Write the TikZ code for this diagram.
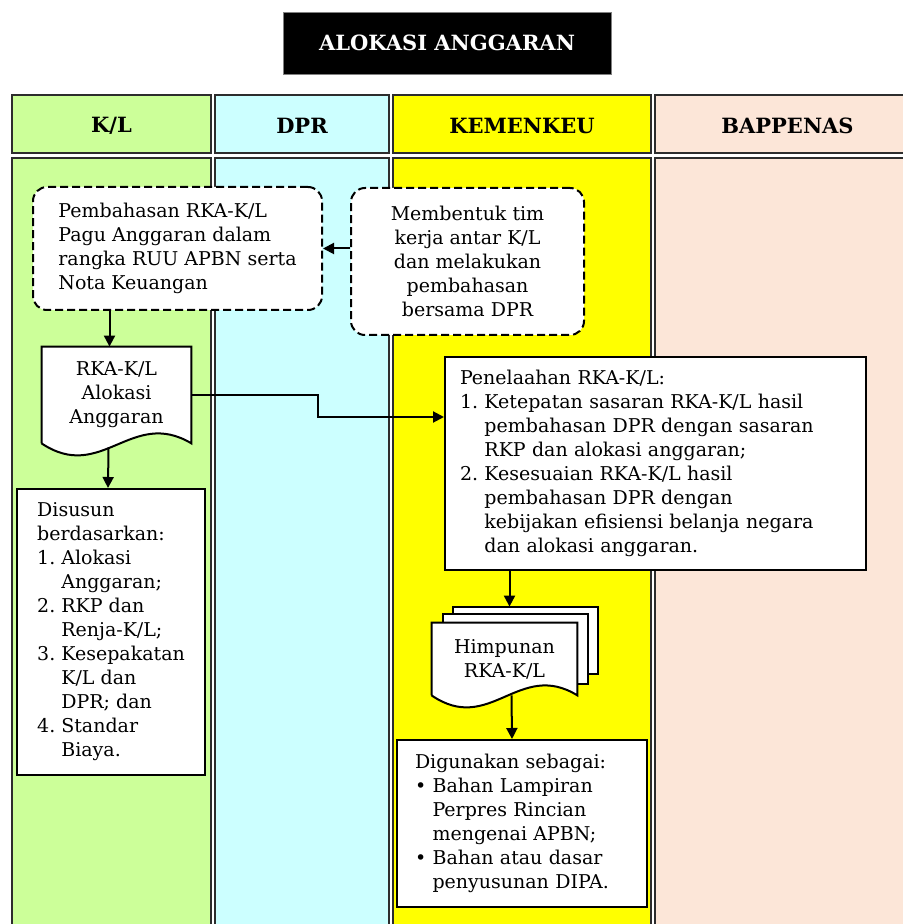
\documentclass[tikz,border=0pt]{standalone}
\usepackage{fontspec}
\setmainfont{DejaVu Serif}
\usetikzlibrary{arrows.meta,calc,positioning}
\definecolor{klgreen}{RGB}{204,255,153}
\definecolor{dprcyan}{RGB}{204,255,255}
\definecolor{kemyellow}{RGB}{255,255,0}
\definecolor{bappeach}{RGB}{252,230,216}
\definecolor{laneline}{RGB}{45,45,45}
\pgfdeclarelayer{lanes}
\pgfdeclarelayer{papers}
\pgfsetlayers{lanes,papers,main}
\newcommand{\lanecol}[4]{%
  \filldraw[fill=#3,draw=laneline,line width=1pt] (#1,95) rectangle (#2,153);
  \filldraw[fill=#3,draw=laneline,line width=1pt] (#1,158) rectangle (#2,960);
  \node[lanehead] (head#4) at ({(#1+#2)/2},126) {\lanename};
}
\newcommand{\docedge}[1]{%
  \begin{pgfonlayer}{papers}
  \filldraw[fill=white,line width=1pt] (#1.south west) -- (#1.north west)
    -- (#1.north east) -- (#1.south east)
    .. controls ($(#1.south east)!.4!(#1.south west)+(0,-36)$)
    and ($(#1.south east)!.6!(#1.south west)+(0,40)$) .. (#1.south west);
  \end{pgfonlayer}
}
\newcommand{\ind}{\hphantom{1.~}}
\newcommand{\bul}{\hphantom{\textbullet~}}
\tikzset{
  lanehead/.style={font=\bfseries\fontsize{10.5}{12}\selectfont},
  dashbox/.style={draw,line width=1pt,dash pattern=on 4pt off 2pt,
    rounded corners=7pt,fill=white,align=left},
  plainbox/.style={draw,line width=1pt,fill=white,align=left},
  paper/.style={align=center,inner sep=0pt},
  flow/.style={-{Triangle[length=5.5pt,width=5.5pt]},line width=1pt},
}

\begin{document}
\begin{tikzpicture}[x=.5pt,y=-.5pt,font=\fontsize{9.5}{12}\selectfont]
    \useasboundingbox (0,0) rectangle (902,924);
    \begin{pgfonlayer}{lanes}
      \foreach \xa/\xb/\warna/\lanename [count=\i] in
        {12/211/klgreen/K\slash L,215/389/dprcyan/DPR,
         393/651/kemyellow/KEMENKEU,655/920/bappeach/BAPPENAS}
        {\lanecol{\xa}{\xb}{\warna}{\i}}
    \end{pgfonlayer}
    \node[fill=black,draw=gray,text=white,font=\bfseries\fontsize{10.5}{12}\selectfont,
      minimum width=164pt,minimum height=31pt] (judul) at (447,43) {ALOKASI ANGGARAN};

    \node[dashbox,minimum width=144.5pt,minimum height=61.5pt] (bahas) at (177.5,248.5)
      {Pembahasan RKA-K/L\\Pagu Anggaran dalam\\rangka RUU APBN serta\\Nota Keuangan};
    \node[dashbox,align=center,minimum width=116.5pt,minimum height=73.5pt] (bentuk) at (467.5,261.5)
      {Membentuk tim\\kerja antar K/L\\dan melakukan\\pembahasan\\bersama DPR};
    \node[paper,minimum width=74.5pt,minimum height=48pt] (rka) at (116.5,395)
      {RKA-K/L\\Alokasi\\Anggaran};
    \docedge{rka}
    \node[plainbox,minimum width=94pt,minimum height=143pt] (susun) at (111,632)
      {Disusun\\berdasarkan:\\1.~Alokasi\\\ind Anggaran;\\2.~RKP dan\\\ind Renja-K/L;\\
       3.~Kesepakatan\\\ind K/L dan\\\ind DPR; dan\\4.~Standar\\\ind Biaya.};
    \node[plainbox,text width=195.5pt,inner xsep=7.5pt,minimum height=106.5pt] (telaah) at (655.5,463.5)
      {Penelaahan RKA-K/L:\\1.~Ketepatan sasaran RKA-K/L hasil\\\ind pembahasan DPR dengan sasaran\\
       \ind RKP dan alokasi anggaran;\\2.~Kesesuaian RKA-K/L hasil\\\ind pembahasan DPR dengan\\
       \ind kebijakan efisiensi belanja negara\\\ind dan alokasi anggaran.};
    \node[paper,minimum width=72.5pt,minimum height=36pt] (him) at (504.5,659)
      {Himpunan\\RKA-K/L};
    \begin{pgfonlayer}{papers}
      \foreach \s in {21,11}
        \filldraw[fill=white,line width=1pt] ($(him.north west)+(\s,-.75*\s)$)
          rectangle ($(him.south east)+(\s,-\s)$);
    \end{pgfonlayer}
    \docedge{him}
    \node[plainbox,text width=107pt,inner xsep=9pt,minimum height=83.5pt] (guna) at (522,823.5)
      {Digunakan sebagai:\\\textbullet~Bahan Lampiran\\\bul Perpres Rincian\\\bul mengenai APBN;\\
       \textbullet~Bahan atau dasar\\\bul penyusunan DIPA.};

    \coordinate (telaahin) at ($(telaah.west)+(0,-46.5)$);
    \coordinate (himtop) at ($(him.north)+(5,-16)$);
    \draw[flow] (bentuk.west |- bahas.east) -- (bahas.east);
    \draw[flow] ($(rka.north |- bahas.south)+(-7,0)$) -- ($(rka.north)+(-7,0)$);
    \draw[flow] ($(rka.south)+(-8,4)$) -- ($(susun.north)+(-3,0)$);
    \draw[flow] (rka.east) -| ($(rka.east)!.5!(telaahin)$) |- (telaahin);
    \draw[flow] (himtop |- telaah.south) -- (himtop);
    \draw[flow] ($(him.south)+(7,0)$) -- ($(guna.north)+(-10,0)$);
\end{tikzpicture}
\end{document}
